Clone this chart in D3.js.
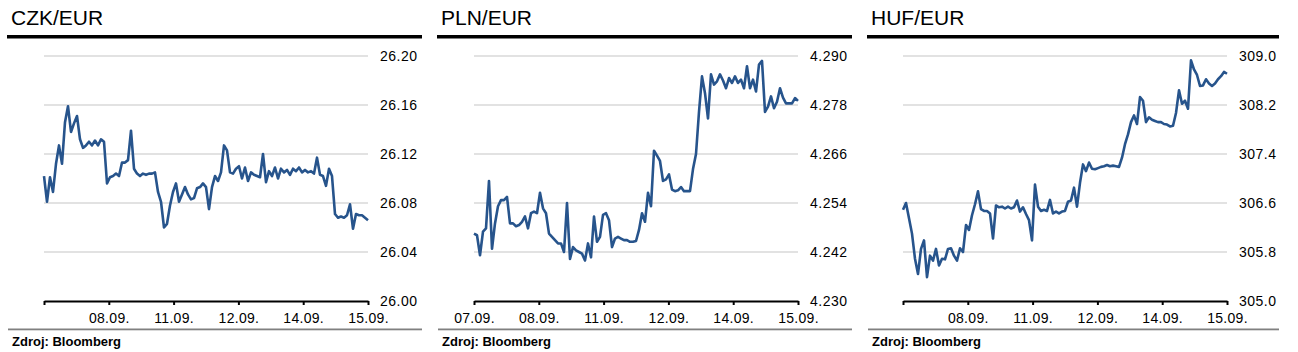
<!DOCTYPE html>
<html>
<head>
<meta charset="utf-8">
<script src="https://cdn.jsdelivr.net/npm/d3@7"></script>
<style>
  html, body { margin: 0; padding: 0; background: #ffffff; }
  svg { display: block; font-family: "Liberation Sans", Arial, sans-serif; }
</style>
</head>
<body>
<svg id="chart" width="1298" height="352"></svg>
<script>
// ---- data (evenly spaced over the period) ----
const titles = ["CZK/EUR", "PLN/EUR", "HUF/EUR"];
const source = "Zdroj: Bloomberg";

const dayLabelsCZK = ["", "08.09.", "11.09.", "12.09.", "14.09.", "15.09."];
const dayLabelsPLN = ["07.09.", "08.09.", "11.09.", "12.09.", "14.09.", "15.09."];
const dayLabelsHUF = ["", "08.09.", "11.09.", "12.09.", "14.09.", "15.09."];

const yTicksCZK = [26.00, 26.04, 26.08, 26.12, 26.16, 26.20];
const yTicksPLN = [4.230, 4.242, 4.254, 4.266, 4.278, 4.290];
const yTicksHUF = [305.0, 305.8, 306.6, 307.4, 308.2, 309.0];

const czk = [
  26.102, 26.081, 26.101, 26.089, 26.112, 26.127, 26.112, 26.146, 26.159, 26.138,
  26.145, 26.151, 26.132, 26.125, 26.127, 26.130, 26.127, 26.131, 26.127, 26.132,
  26.130, 26.096, 26.101, 26.102, 26.104, 26.102, 26.113, 26.113, 26.115, 26.139,
  26.108, 26.104, 26.102, 26.104, 26.103, 26.104, 26.104, 26.105, 26.089, 26.081,
  26.060, 26.063, 26.078, 26.089, 26.096, 26.081, 26.087, 26.093, 26.087, 26.083,
  26.084, 26.092, 26.093, 26.096, 26.093, 26.075, 26.093, 26.102, 26.098, 26.105,
  26.127, 26.123, 26.105, 26.104, 26.108, 26.110, 26.100, 26.109, 26.098, 26.105,
  26.103, 26.102, 26.101, 26.120, 26.097, 26.106, 26.102, 26.109, 26.100, 26.108,
  26.105, 26.107, 26.103, 26.108, 26.106, 26.109, 26.105, 26.107, 26.105, 26.106,
  26.104, 26.117, 26.103, 26.102, 26.094, 26.108, 26.102, 26.071, 26.068, 26.069,
  26.068, 26.070, 26.079, 26.059, 26.071, 26.070, 26.070, 26.068, 26.066
];

const pln = [
  4.2465, 4.2461, 4.2412, 4.2470, 4.2478, 4.2594, 4.2428, 4.2490, 4.2532, 4.2547,
  4.2547, 4.2555, 4.2490, 4.2490, 4.2483, 4.2486, 4.2494, 4.2507, 4.2478, 4.2515,
  4.2519, 4.2515, 4.2565, 4.2527, 4.2515, 4.2465, 4.2457, 4.2449, 4.2441, 4.2441,
  4.2420, 4.2540, 4.2403, 4.2432, 4.2424, 4.2420, 4.2416, 4.2399, 4.2441, 4.2407,
  4.2507, 4.2445, 4.2457, 4.2511, 4.2515, 4.2498, 4.2432, 4.2453, 4.2457, 4.2453,
  4.2449, 4.2449, 4.2445, 4.2445, 4.2447, 4.2474, 4.2515, 4.2494, 4.2565, 4.2532,
  4.2668, 4.2656, 4.2643, 4.2594, 4.2598, 4.2610, 4.2573, 4.2569, 4.2571, 4.2579,
  4.2569, 4.2569, 4.2569, 4.2623, 4.2660, 4.2763, 4.2850, 4.2809, 4.2747, 4.2855,
  4.2830, 4.2838, 4.2855, 4.2840, 4.2821, 4.2846, 4.2834, 4.2850, 4.2834, 4.2842,
  4.2821, 4.2875, 4.2821, 4.2842, 4.2813, 4.2879, 4.2888, 4.2763, 4.2776, 4.2801,
  4.2772, 4.2788, 4.2821, 4.2798, 4.2784, 4.2784, 4.2784, 4.2797, 4.2790
];

const huf = [
  306.49, 306.60, 306.35, 306.10, 305.69, 305.44, 305.85, 305.99, 305.39, 305.74,
  305.66, 305.85, 305.58, 305.69, 305.68, 305.85, 305.86, 305.74, 305.66, 305.86,
  305.80, 306.24, 306.16, 306.40, 306.58, 306.79, 306.50, 306.47, 306.47, 306.43,
  306.02, 306.56, 306.53, 306.54, 306.51, 306.54, 306.51, 306.53, 306.64, 306.46,
  306.53, 306.42, 306.32, 305.99, 306.90, 306.54, 306.47, 306.49, 306.47, 306.65,
  306.43, 306.46, 306.43, 306.46, 306.47, 306.62, 306.64, 306.85, 306.54, 306.93,
  307.23, 307.12, 307.26, 307.16, 307.15, 307.17, 307.19, 307.20, 307.22, 307.20,
  307.21, 307.20, 307.19, 307.34, 307.56, 307.72, 307.92, 308.03, 307.89, 308.33,
  308.27, 307.92, 308.00, 307.96, 307.94, 307.92, 307.92, 307.89, 307.88, 307.85,
  307.86, 308.07, 308.44, 308.22, 308.27, 308.14, 308.93, 308.78, 308.69, 308.51,
  308.52, 308.62, 308.55, 308.51, 308.55, 308.62, 308.67, 308.74, 308.71
];

const panels = [
  { title: titles[0], values: czk, yTicks: yTicksCZK, xLabels: dayLabelsCZK, fmt: d3.format(".2f"), ox: 0,   left: 44 },
  { title: titles[1], values: pln, yTicks: yTicksPLN, xLabels: dayLabelsPLN, fmt: d3.format(".3f"), ox: 430, left: 44 },
  { title: titles[2], values: huf, yTicks: yTicksHUF, xLabels: dayLabelsHUF, fmt: d3.format(".1f"), ox: 860, left: 43 }
];

const svg = d3.select("#chart");
const plotW = 324, yTop = 56, yBot = 301;
const lineColor = "#27548c";

panels.forEach(p => {
  const g = svg.append("g").attr("transform", `translate(${p.ox},0)`);
  const x0 = p.left, x1 = p.left + plotW;

  // title
  g.append("text").attr("x", 11).attr("y", 25)
    .attr("font-size", 21).attr("fill", "#000").text(p.title);
  // thick rule under title
  g.append("rect").attr("x", 7).attr("y", 35).attr("width", p.ox === 860 ? 412 : 415).attr("height", 3.5).attr("fill", "#000");

  const nDays = p.xLabels.length - 1;
  const x = d3.scaleLinear().domain([0, nDays]).range([x0, x1]);
  const y = d3.scaleLinear().domain([p.yTicks[0], p.yTicks[p.yTicks.length - 1]]).range([yBot, yTop]);

  // gridlines
  g.append("g").selectAll("line").data(p.yTicks.slice(1)).join("line")
    .attr("x1", x0).attr("x2", x1)
    .attr("y1", d => y(d)).attr("y2", d => y(d))
    .attr("stroke", "#d9d9d9").attr("stroke-width", 1.6);

  // y labels (right)
  g.append("g").selectAll("text").data(p.yTicks).join("text")
    .attr("x", x1 + 12).attr("y", d => y(d) + 5)
    .attr("font-size", 14).attr("letter-spacing", 0.5).attr("fill", "#000")
    .text(d => p.fmt(d));

  // x axis
  const xAxis = d3.axisBottom(x).tickValues(d3.range(0, nDays + 1))
    .tickSize(4).tickSizeOuter(0).tickFormat(d => p.xLabels[d]);
  const ax = g.append("g").attr("transform", `translate(0,${yBot})`).call(xAxis);
  ax.select(".domain").attr("stroke", "#000").attr("stroke-width", 2.2);
  ax.selectAll(".tick line").attr("stroke", "#000").attr("stroke-width", 2);
  ax.selectAll(".tick text").attr("font-size", 14).attr("fill", "#000").attr("letter-spacing", 0.3)
    .attr("font-family", "Liberation Sans, Arial, sans-serif").attr("dy", null).attr("y", 22);

  // series line
  const n = p.values.length;
  const line = d3.line()
    .x((d, i) => x(i * nDays / (n - 1)))
    .y(d => y(d));
  g.append("path").datum(p.values)
    .attr("d", line).attr("fill", "none")
    .attr("stroke", lineColor).attr("stroke-width", 2.6).attr("stroke-linejoin", "round");

  // bottom rule and source
  g.append("rect").attr("x", 8).attr("y", 328.5).attr("width", p.ox === 860 ? 411 : 414).attr("height", 1.8).attr("fill", "#808080");
  g.append("text").attr("x", 12).attr("y", 346).attr("font-size", 13).attr("font-weight", "bold")
    .attr("fill", "#000").text(source);
});
</script>
</body>
</html>
